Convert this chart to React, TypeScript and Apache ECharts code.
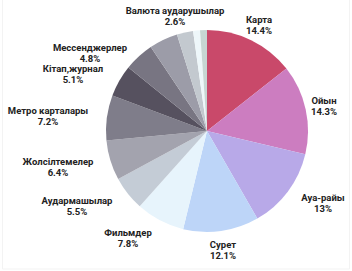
import React, { useEffect, useRef } from "react";
import * as echarts from "echarts";

const categories = [
  "Карта",
  "Ойын",
  "Ауа-райы",
  "Сурет",
  "Фильмдер",
  "Аудармашылар",
  "Жолсілтемелер",
  "Метро карталары",
  "Кітап,журнал",
  "Мессенджерлер",
  "Басқалары",
  "Валюта аударушылар",
  "Басқа 1",
  "Басқа 2",
];
const values = [14.4, 14.3, 13, 12.1, 7.8, 5.5, 6.4, 7.2, 5.1, 4.8, 4.6, 2.6, 1.1, 1.1];
const labelled = [true, true, true, true, true, true, true, true, true, true, false, true, false, false];

// layout (not data): label centres in pixels, by slice index
const labelCentres: [number, number][] = [
  [259, 25],
  [324, 106],
  [323, 203],
  [223, 250],
  [128, 237.5],
  [77, 205.5],
  [58, 166.7],
  [48, 116],
  [73, 73.5],
  [90, 52.5],
  [0, 0],
  [175, 16],
  [0, 0],
  [0, 0],
];
const colors = [
  "#c9496a",
  "#cc7dc0",
  "#b8a9e8",
  "#bdd5f8",
  "#e7f4fc",
  "#c4ccd6",
  "#a3a3ae",
  "#7f7d8a",
  "#56515f",
  "#787582",
  "#9c9ca8",
  "#c3c9cf",
  "#eef7fa",
  "#c7d6d3",
];

const CX = 207;
const CY = 131;
const R = 101;

export default function App() {
  const ref = useRef<HTMLDivElement>(null);
  useEffect(() => {
    document.body.style.margin = "0";
    if (!ref.current) return;
    const chart = echarts.init(ref.current, undefined, { renderer: "svg" });
    chart.setOption({
      animation: false,
      backgroundColor: "#ffffff",
      graphic: [
        {
          type: "rect",
          shape: { x: 2.5, y: -2, width: 347, height: 271 },
          style: { fill: "none", stroke: "#f3f3f3", lineWidth: 1 },
          silent: true,
        },
      ],
      series: [
        {
          type: "pie",
          center: [CX, CY],
          radius: [0, R],
          startAngle: 90,
          clockwise: true,
          avoidLabelOverlap: false,
          itemStyle: { borderWidth: 0 },
          label: {
            show: true,
            position: "outside",
            formatter: (p: any) => `${p.name}\n${p.value}%`,
            fontFamily: "Roboto",
            fontWeight: "bold",
            fontSize: 9.5,
            lineHeight: 11,
            color: "#222222",
            align: "center",
          },
          labelLine: { show: false },
          labelLayout: (params: any) => {
            const c = labelCentres[params.dataIndex];
            return {
              x: c[0],
              y: c[1],
              align: "center",
              verticalAlign: "middle",
            };
          },
          data: categories.map((name, i) => ({
            name,
            value: values[i],
            itemStyle: { color: colors[i] },
            label: { show: labelled[i] },
          })),
        },
      ],
    });
    return () => chart.dispose();
  }, []);
  return <div ref={ref} style={{ width: 352, height: 271 }} />;
}
